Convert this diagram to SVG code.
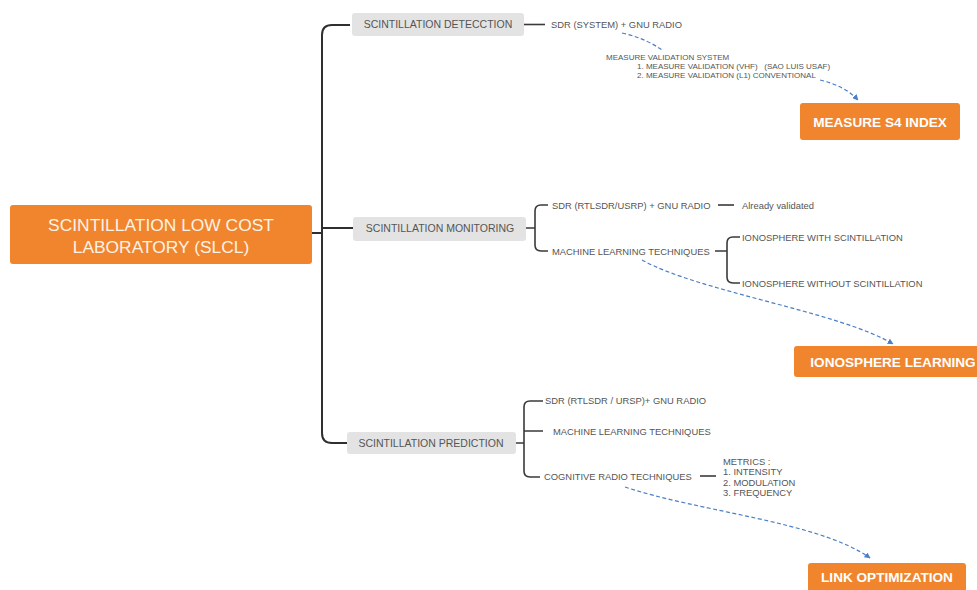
<svg xmlns="http://www.w3.org/2000/svg" width="977" height="590" viewBox="0 0 977 590">
<style>
.bg{fill:#ffffff}
.orange{fill:#F0852D}
.grey{fill:#E3E3E3}
.ln{fill:none;stroke:#3a3a3a;stroke-width:1.6}
.trunk{fill:none;stroke:#2f2f2f;stroke-width:2}
.dash{fill:none;stroke:#4B7FC6;stroke-width:1.2;stroke-dasharray:4 2.5}
.t{font-family:"Liberation Sans",Arial,sans-serif;fill:#555555}
.box{font-size:10.5px;text-anchor:middle}
.sub{font-size:9.4px}
.small{font-size:8px}
.big{font-family:"Liberation Sans",Arial,sans-serif;font-weight:bold;font-size:13.6px;fill:#ffffff;text-anchor:middle}
.root{font-family:"Liberation Sans",Arial,sans-serif;font-size:17.4px;fill:#FDF2E6;text-anchor:middle}
</style>
<defs>
<marker id="arr" viewBox="0 0 10 10" refX="9" refY="5" markerWidth="6" markerHeight="6" orient="auto" markerUnits="userSpaceOnUse">
<path d="M0,0 L10,5 L0,10 z" fill="#4B7FC6"/>
</marker>
</defs>
<rect class="bg" x="0" y="0" width="977" height="590"/>

<g id="connectors">
<path class="trunk" d="M350 25 H332 Q322 25 322 35 V433 Q322 443 332 443 H347"/>
<path class="trunk" d="M312 233 H322 M322 228 H353"/>
<path class="ln" d="M524 24.5 H545"/>
<path class="ln" d="M526 228 H535 M548 205 H541 Q535 205 535 211 V245 Q535 251 541 251 H548"/>
<path class="ln" d="M718 205 H734"/>
<path class="ln" d="M715 251 H727 M740 237 H733 Q727 237 727 243 V277 Q727 283 733 283 H740"/>
<path class="ln" d="M516 443 H524 M543 401 H530 Q524 401 524 407 V471 Q524 477 530 477 H540 M524 431 H543"/>
<path class="ln" d="M700 476 H716"/>
<path class="dash" d="M622 33 Q645 38 662 50"/>
<path class="dash" d="M820 80 Q845 86 858 100" marker-end="url(#arr)"/>
<path class="dash" d="M642 260 C700 292 840 312 893 344" marker-end="url(#arr)"/>
<path class="dash" d="M625 487 C700 512 820 522 870 558" marker-end="url(#arr)"/>
</g>

<g id="root">
<rect class="orange" x="10" y="205" width="302" height="59" rx="3"/>
<text class="root" x="161" y="231">SCINTILLATION LOW COST</text>
<text class="root" x="161" y="253">LABORATORY (SLCL)</text>
</g>

<g id="detection">
<rect class="grey" x="352" y="13" width="172" height="23" rx="3"/>
<text class="t box" x="438" y="28.3">SCINTILLATION DETECCTION</text>
</g>
<g id="sdr-system">
<text class="t sub" x="551" y="27.8">SDR (SYSTEM) + GNU RADIO</text>
</g>
<g id="measure-validation">
<text class="t small" x="606" y="60">MEASURE VALIDATION SYSTEM</text>
<text class="t small" x="637" y="69" xml:space="preserve">1. MEASURE VALIDATION (VHF)   (SAO LUIS USAF)</text>
<text class="t small" x="637" y="78">2. MEASURE VALIDATION (L1) CONVENTIONAL</text>
</g>
<g id="measure-s4">
<rect class="orange" x="800" y="103" width="160" height="37" rx="3"/>
<text class="big" x="880" y="126.5">MEASURE S4 INDEX</text>
</g>

<g id="monitoring">
<rect class="grey" x="353" y="217" width="173" height="24" rx="3"/>
<text class="t box" x="440" y="232">SCINTILLATION MONITORING</text>
</g>
<g id="sdr-rtlsdr">
<text class="t sub" x="552" y="208.5">SDR (RTLSDR/USRP) + GNU RADIO</text>
</g>
<g id="already-validated">
<text class="t sub" x="742" y="208.5">Already validated</text>
</g>
<g id="ml-monitoring">
<text class="t sub" x="552" y="254.5">MACHINE LEARNING TECHNIQUES</text>
</g>
<g id="iono-with">
<text class="t sub" x="742" y="240.5">IONOSPHERE WITH SCINTILLATION</text>
</g>
<g id="iono-without">
<text class="t sub" x="742" y="286.5">IONOSPHERE WITHOUT SCINTILLATION</text>
</g>
<g id="iono-learning">
<rect class="orange" x="794" y="346" width="200" height="31" rx="3"/>
<text class="big" x="893" y="366.5">IONOSPHERE LEARNING</text>
</g>

<g id="prediction">
<rect class="grey" x="347" y="432" width="169" height="22" rx="3"/>
<text class="t box" x="431" y="446.8">SCINTILLATION PREDICTION</text>
</g>
<g id="sdr-urs">
<text class="t sub" x="545" y="403.5">SDR (RTLSDR / URSP)+ GNU RADIO</text>
</g>
<g id="ml-prediction">
<text class="t sub" x="553" y="434.5">MACHINE LEARNING TECHNIQUES</text>
</g>
<g id="cognitive">
<text class="t sub" x="544" y="479.5">COGNITIVE RADIO TECHNIQUES</text>
</g>
<g id="metrics">
<text class="t sub" x="723" y="464.5">METRICS :</text>
<text class="t sub" x="723" y="475">1. INTENSITY</text>
<text class="t sub" x="723" y="485.5">2. MODULATION</text>
<text class="t sub" x="723" y="496">3. FREQUENCY</text>
</g>
<g id="link-optimization">
<rect class="orange" x="808" y="563" width="158" height="34" rx="3"/>
<text class="big" x="887" y="582">LINK OPTIMIZATION</text>
</g>
</svg>
